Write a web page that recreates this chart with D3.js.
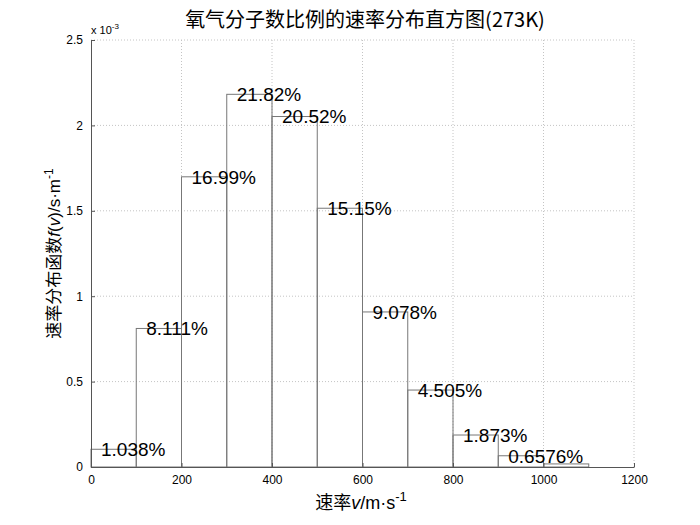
<!DOCTYPE html>
<html>
<head>
<meta charset="utf-8">
<script src="https://cdn.jsdelivr.net/npm/d3@7"></script>
<style>
  body { margin: 0; background: #fff; }
  text { font-family: Arial, "Liberation Sans", sans-serif; }
</style>
</head>
<body>
<div id="root"></div>
<script>
// bins of speed (m/s) and the share of molecules in each bin
const binStarts = [0, 100, 200, 300, 400, 500, 600, 700, 800, 900, 1000];
const binWidth = 100;
const fValues = [0.1038e-3, 0.8111e-3, 1.699e-3, 2.182e-3, 2.052e-3, 1.515e-3, 0.9078e-3, 0.4505e-3, 0.1873e-3, 0.06576e-3, 0.018e-3];
const labels = ["1.038%", "8.111%", "16.99%", "21.82%", "20.52%", "15.15%", "9.078%", "4.505%", "1.873%", "0.6576%", ""];
const xTicks = [0, 200, 400, 600, 800, 1000, 1200];
const yTicks = [0, 0.5, 1, 1.5, 2, 2.5];

const W = 700, H = 525;
const margin = {top: 40, right: 66, bottom: 58, left: 91};

const svg = d3.select("#root").append("svg")
    .attr("width", W)
    .attr("height", H);

const x = d3.scaleLinear().domain([0, 1200]).range([margin.left, W - margin.right]);
const y = d3.scaleLinear().domain([0, 2.5]).range([H - margin.bottom, margin.top]);

const data = binStarts.map((s, i) => ({s: s, f: fValues[i] * 1000, label: labels[i]}));

// grid
svg.append("g").selectAll("line.gx")
  .data(xTicks.slice(1))
  .enter().append("line")
    .attr("x1", d => x(d)).attr("x2", d => x(d))
    .attr("y1", y(0)).attr("y2", y(2.5))
    .attr("stroke", "#c4c4c4").attr("stroke-dasharray", "1,2");
svg.append("g").selectAll("line.gy")
  .data(yTicks.slice(1))
  .enter().append("line")
    .attr("x1", x(0)).attr("x2", x(1200))
    .attr("y1", d => y(d)).attr("y2", d => y(d))
    .attr("stroke", "#c4c4c4").attr("stroke-dasharray", "1,2");

// bars (outline only)
svg.append("g").selectAll("rect")
  .data(data)
  .enter().append("rect")
    .attr("x", d => x(d.s))
    .attr("y", d => y(d.f))
    .attr("width", d => x(d.s + binWidth) - x(d.s))
    .attr("height", d => y(0) - y(d.f))
    .attr("fill", "none")
    .attr("stroke", "#777")
    .attr("stroke-width", 1);

// axes
const xAxis = d3.axisBottom(x).tickValues(xTicks).tickSizeInner(-4).tickSizeOuter(0).tickPadding(8)
    .tickFormat(d3.format("d"));
const yAxis = d3.axisLeft(y).tickValues(yTicks).tickSizeInner(-4).tickSizeOuter(0).tickPadding(8)
    .tickFormat(d3.format("~g"));

const gx = svg.append("g")
    .attr("transform", "translate(0," + y(0) + ")")
    .call(xAxis);
const gy = svg.append("g")
    .attr("transform", "translate(" + x(0) + ",0)")
    .call(yAxis);
[gx, gy].forEach(g => {
  g.select(".domain").attr("stroke", "#555");
  g.selectAll(".tick line").attr("stroke", "#555");
  g.selectAll(".tick text").attr("font-size", 12).attr("fill", "#000")
    .attr("font-family", "Arial, 'Liberation Sans', sans-serif");
});

// bar labels
svg.append("g").selectAll("text")
  .data(data.filter(d => d.label !== ""))
  .enter().append("text")
    .attr("x", d => x(d.s) + 10)
    .attr("y", d => y(d.f))
    .attr("dy", "0.36em")
    .attr("font-size", 19)
    .attr("fill", "#000")
    .text(d => d.label);

// exponent
const ex = svg.append("text")
    .attr("x", x(0))
    .attr("y", 34)
    .attr("font-size", 11);
ex.append("tspan").text("x 10");
ex.append("tspan").attr("font-size", 8).attr("dy", -5).text("-3");

// title
svg.append("text")
    .attr("x", 365)
    .attr("y", 27)
    .attr("text-anchor", "middle")
    .attr("font-size", 20)
    .style("font-family", "'Noto Sans CJK SC', sans-serif")
    .attr("fill", "#000")
    .text("氧气分子数比例的速率分布直方图(273K)");

// x label
const xl = svg.append("text")
    .attr("x", 361)
    .attr("y", 509)
    .attr("text-anchor", "middle")
    .attr("font-size", 18)
    .attr("fill", "#000");
xl.append("tspan").style("font-family", "'Noto Sans CJK SC', sans-serif").text("速率");
xl.append("tspan").attr("font-style", "italic").text("v");
xl.append("tspan").text("/m·s");
xl.append("tspan").attr("font-size", 13).attr("dy", -8).text("-1");

// y label
const yl = svg.append("text")
    .attr("transform", "translate(60," + ((y(0) + y(2.5)) / 2) + ") rotate(-90)")
    .attr("text-anchor", "middle")
    .attr("font-size", 17)
    .attr("fill", "#000");
yl.append("tspan").style("font-family", "'Noto Sans CJK SC', sans-serif").text("速率分布函数");
yl.append("tspan").attr("font-style", "italic").text("f");
yl.append("tspan").text("(");
yl.append("tspan").attr("font-style", "italic").text("v");
yl.append("tspan").text(")/s·m");
yl.append("tspan").attr("font-size", 12).attr("dy", -7).text("-1");
</script>
</body>
</html>
